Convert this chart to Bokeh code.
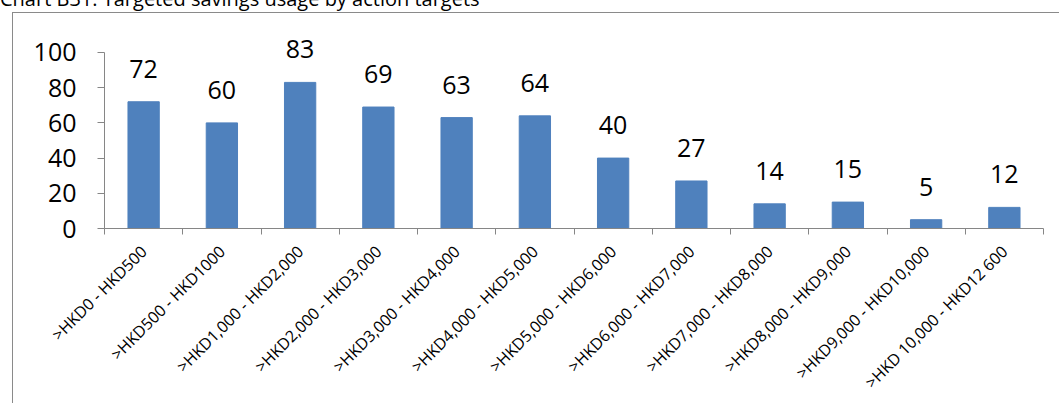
import math
from bokeh.plotting import figure
from bokeh.layouts import column
from bokeh.models import Range1d, FixedTicker, LabelSet, ColumnDataSource, Div
from bokeh.core.properties import value
from bokeh.embed import file_html
from bokeh.resources import INLINE

title_text = "Chart B31: Targeted savings usage by action targets"
categories = [">HKD0 - HKD500", ">HKD500 - HKD1000", ">HKD1,000 - HKD2,000",
              ">HKD2,000 - HKD3,000", ">HKD3,000 - HKD4,000", ">HKD4,000 - HKD5,000",
              ">HKD5,000 - HKD6,000", ">HKD6,000 - HKD7,000", ">HKD7,000 - HKD8,000",
              ">HKD8,000 - HKD9,000", ">HKD9,000 - HKD10,000", ">HKD 10,000 - HKD12 600"]
values = [72, 60, 83, 69, 63, 64, 40, 27, 14, 15, 5, 12]
y_ticks = [0, 20, 40, 60, 80, 100]

FONT = "Open Sans"
BAR = "#4F81BD"
AXIS = "#868686"
BORDER = "#8A8A8A"

n = len(categories)
centers = [i + 0.5 for i in range(n)]
source = ColumnDataSource(dict(x=centers, top=values, label=[str(v) for v in values]))

p = figure(width=1047, height=391, x_range=Range1d(0, n), y_range=Range1d(0, 117.6),
           output_backend="svg", toolbar_location=None,
           min_border_left=91, min_border_right=17, min_border_top=8, min_border_bottom=176,
           styles={"border-left": f"1px solid {BORDER}", "border-top": f"1px solid {BORDER}"},
           margin=(0, 0, 0, 12))
p.outline_line_color = None
p.xgrid.visible = False
p.ygrid.visible = False

p.vbar(x="x", top="top", width=0.4, source=source, fill_color=BAR, line_color=BAR)

labels = LabelSet(x="x", y="top", text="label", source=source, text_align="center",
                  text_baseline="alphabetic", y_offset=24, text_font=value(FONT),
                  text_font_size="25px", text_color="black")
p.add_layout(labels)

# y axis
ya = p.yaxis[0]
ya.ticker = FixedTicker(ticks=y_ticks)
ya.bounds = (0, 100)
ya.axis_line_color = AXIS
ya.major_tick_line_color = AXIS
ya.major_tick_out = 7
ya.major_tick_in = 0
ya.minor_tick_line_color = None
ya.major_label_standoff = 21
ya.major_label_text_font = FONT
ya.major_label_text_font_size = "25px"
ya.major_label_text_color = "black"

# x axis
xa = p.xaxis[0]
xa.ticker = FixedTicker(ticks=centers, minor_ticks=list(range(n + 1)))
xa.major_label_overrides = {c: lab for c, lab in zip(centers, categories)}
xa.axis_line_color = AXIS
xa.major_tick_line_color = None
xa.major_tick_out = 0
xa.major_tick_in = 0
xa.minor_tick_line_color = AXIS
xa.minor_tick_out = 6
xa.minor_tick_in = 0
xa.major_label_orientation = math.pi / 4
xa.major_label_standoff = 14
xa.major_label_text_font = FONT
xa.major_label_text_font_size = "16px"
xa.major_label_text_color = "black"

title_div = Div(
    text=f'<div style="position:relative; top:-13px; font-family:\'{FONT}\'; '
         f'font-size:20px; line-height:24px; white-space:nowrap; color:black;">{title_text}</div>',
    width=1059, height=12, margin=(0, 0, 0, 0))

layout = column(title_div, p, spacing=0, margin=(0, 0, 0, 0))

open("out.html", "w").write(file_html(layout, INLINE))
